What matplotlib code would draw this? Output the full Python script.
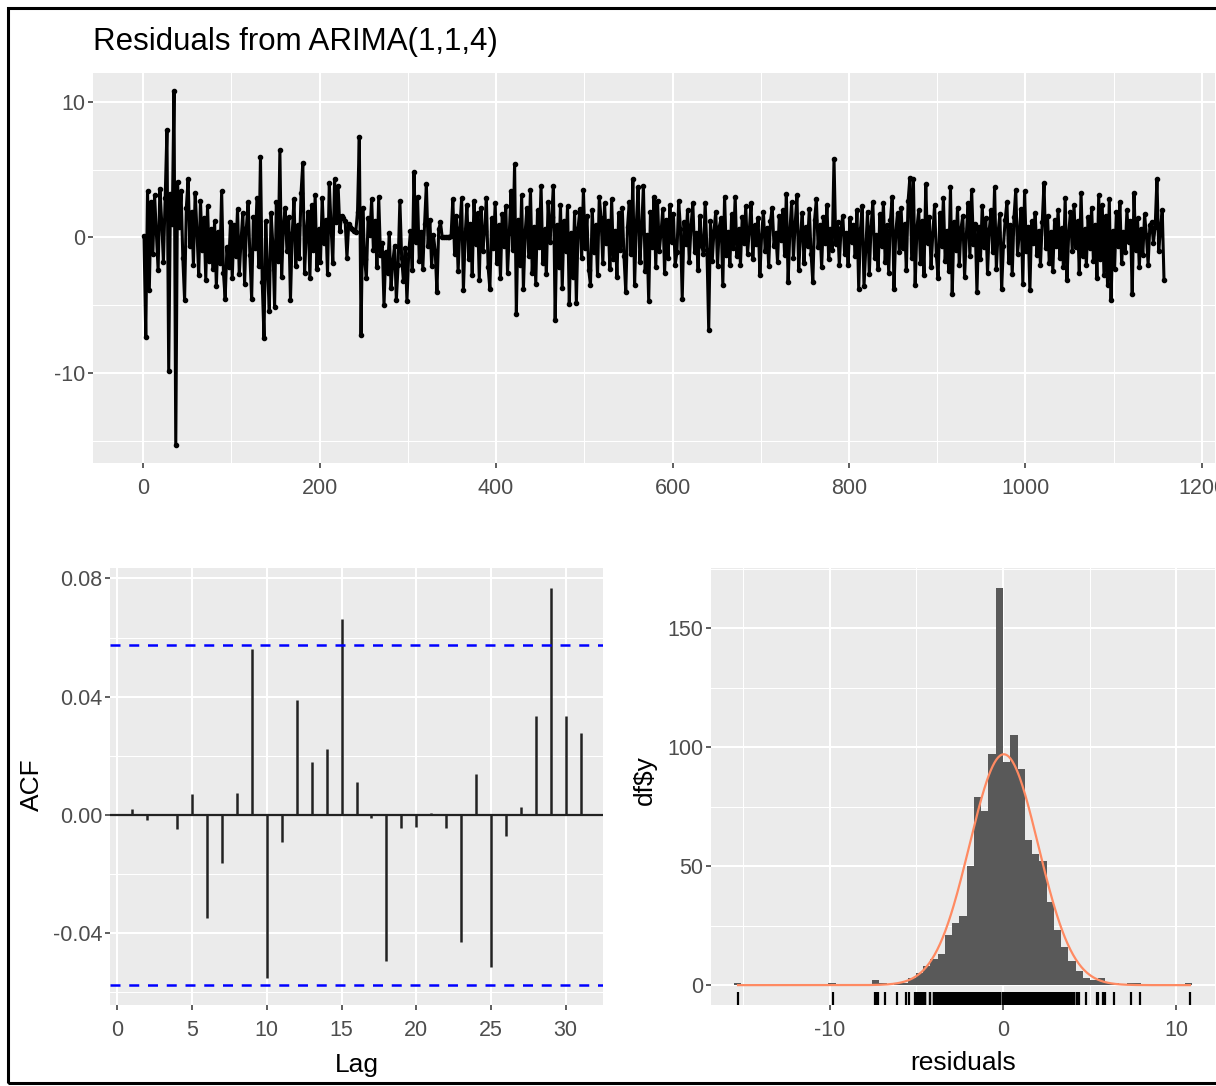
import numpy as np
import matplotlib
matplotlib.use("Agg")
import matplotlib.pyplot as plt
from matplotlib.patches import Rectangle

plt.rcParams['font.family'] = ['Liberation Sans', 'DejaVu Sans']
plt.rcParams['axes.unicode_minus'] = False

# residual series, every second observation (t = 1, 3, 5, ...)
resid = [
    0.1, -7.3, 3.4, -3.9, 2.6, -1.2, 3.1, 0.4, -2.4, 3.6, 1.2, -1.8, 2.9, 7.9, -9.8, 3.2, 1.0, 10.8, -15.3, 4.1,
    0.8, 3.4, -1.5, -4.6, 2.2, 4.3, -0.6, 1.9, -2.0, 3.3, 0.5, -2.8, 2.7, -0.9, 1.4, -3.1, 2.3, -1.7, 0.6, -2.3,
    1.2, -3.6, 0.4, -1.9, 3.4, -2.6, -4.5, -0.7, -2.2, 1.1, -3.0, 0.9, -1.4, 2.1, -2.7, -0.2, 1.8, -3.4, 0.7, 2.6,
    -1.3, -4.5, 1.5, -0.8, 2.9, -2.1, 5.9, -3.3, -7.4, 1.2, -2.4, -5.4, 1.8, -0.5, -5.1, 2.6, -1.7, 6.4, -2.9, 0.8,
    2.2, -1.0, 1.5, -4.6, 0.3, 2.8, -2.1, 0.9, -1.5, 3.3, 5.5, -2.6, 0.4, 1.9, -3.0, 2.4, -0.9, 3.1, -2.3, 0.6,
    -1.8, 2.9, -0.4, 1.3, -2.7, 4.0, 0.8, -1.9, 4.3, 1.1, 3.8, 0.5, 1.6, 1.4, 1.2, -1.5, 1.0, 0.8, 0.6, 0.5,
    0.4, 1.9, 7.4, -7.2, 2.2, -1.6, -3.0, 1.4, 0.2, 2.8, -0.9, 1.2, -2.2, 3.0, -1.3, -0.4, -5.0, -1.1, -2.6, 0.3,
    -3.7, -1.8, -0.6, -4.6, -2.0, 2.7, -1.5, -3.2, -0.8, -4.7, -1.2, 0.5, -2.4, 4.8, -0.3, 3.0, -1.7, 0.4, -2.3, 1.0,
    3.9, -0.6, 1.3, -2.1, 0.2, -1.0, -4.0, 0.6, 1.1, 0.0, 0.0, 0.0, 0.0, 0.0, 0.1, 2.8, -1.2, 1.6, -2.5, 0.7,
    2.9, -3.9, 0.2, 2.4, -1.6, 1.0, -2.8, 2.7, -0.5, 1.8, -3.1, 2.2, -1.0, 0.5, 2.9, -2.2, -3.8, 1.4, -0.8, 2.5,
    -1.9, 0.9, -3.0, 1.7, -0.6, 2.3, -2.6, 0.3, 3.4, -0.9, 5.4, -5.6, 1.3, -2.0, 3.1, -3.8, 0.4, 2.2, -1.4, 3.5,
    -2.6, 0.8, -3.4, 2.0, -0.7, 3.8, -1.9, 0.6, -2.7, 2.6, -0.3, 1.5, 3.8, -6.1, 0.9, -2.2, 2.4, -3.7, 1.2, -1.0,
    2.3, -4.9, 0.3, -2.9, 1.9, -4.8, 0.7, 2.1, -1.5, 3.5, -0.8, 1.6, -2.4, -3.5, 2.0, -1.1, 0.9, -2.8, 3.0, 1.4,
    -1.9, 2.5, -0.4, 1.2, -2.3, 2.8, -1.6, 0.5, -2.9, 1.8, -0.9, 2.2, -1.4, -4.0, 0.8, 2.6, -1.2, 4.3, -3.5, 1.0,
    3.7, -1.8, 0.6, 3.8, -2.5, 0.2, -4.7, 1.9, -0.7, 3.0, -2.2, 2.7, -1.0, 0.4, 2.1, -2.6, 1.3, -1.5, 2.4, -0.3,
    1.7, -2.0, -1.1, 2.7, 0.6, -4.5, 1.1, -0.5, 2.0, -1.8, 0.9, 2.5, -1.1, 0.3, -2.4, 1.6, -0.6, -1.2, 2.5, -0.9,
    -6.8, 1.2, -1.7, 0.5, 1.9, -2.1, 0.8, 1.4, -3.5, 3.0, -1.3, 0.4, -2.0, 1.7, -0.8, 3.0, -1.4, 0.6, -2.0, 1.5,
    -0.4, 2.3, -1.2, 0.5, 2.5, -1.6, 0.9, -0.5, 1.4, -2.8, 0.2, 1.9, -1.0, 0.7, -2.1, 1.2, 2.2, -0.6, 0.3, -1.8,
    1.6, -0.2, 2.0, -1.3, 3.2, -3.3, 0.5, 2.6, -1.5, 1.0, 3.1, -2.4, 0.1, 1.8, -1.9, 0.8, -0.6, 2.1, -1.2, -3.3,
    1.3, 2.8, -0.7, 0.9, -2.2, 1.5, -0.4, 2.4, -1.6, 0.6, -0.9, 5.8, -0.5, 1.1, -2.0, 0.7, 1.6, -1.2, 0.3, -2.0,
    1.4, -0.3, 0.9, -1.4, 2.0, -3.8, 0.6, 2.3, -3.6, -0.9, 1.9, -2.7, 0.8, 2.6, -1.5, 0.2, -2.3, 1.7, -0.6, 2.5,
    -1.8, 0.9, -2.6, 1.3, 3.0, -3.8, 0.4, 1.8, -1.1, 2.2, -0.8, 1.0, -2.4, 2.7, 4.4, -1.5, 4.3, -3.5, 0.7, 2.0,
    -1.9, 1.2, -2.8, 3.9, -0.4, 1.5, -2.2, 0.3, 2.4, -1.3, -3.0, 1.8, -0.6, 2.9, -1.7, 0.5, -2.5, 3.7, -4.2, 1.1,
    -0.9, 2.2, -2.0, 0.7, 1.6, -2.9, 0.2, 2.5, -1.4, 3.5, -0.5, 1.0, -4.0, 0.8, -1.6, 2.3, -0.7, 1.4, -2.6, 0.6,
    2.0, -1.1, 3.7, -2.3, 0.4, 1.7, -3.8, -0.6, 1.3, 2.6, -1.8, 0.9, -2.7, 1.5, 3.5, -1.2, 0.3, 2.1, -3.4, 3.4,
    -1.0, 0.8, -3.9, 1.2, -0.4, 1.8, -1.3, 0.5, -2.0, 1.1, 4.0, -0.8, 1.6, -1.9, 0.4, -2.5, 1.3, -0.6, 2.0, -1.5,
    0.7, -2.2, 2.9, -3.1, 0.3, 1.9, -1.0, 2.4, -0.7, 1.2, -2.6, 3.3, -1.4, 0.6, -2.0, 1.5, -0.8, 2.2, -1.7, 0.9,
    -3.0, 3.1, -1.6, 2.4, -2.8, 1.6, -3.5, 2.8, -4.6, 0.5, -2.3, 1.9, -0.6, 2.6, -1.9, 0.4, -1.1, 2.0, -0.3, 1.2,
    -4.2, 3.3, -0.9, 1.4, -2.2, 0.6, -1.3, 1.7, 0.2, -2.0, 0.9, 1.1, -0.4, 0.8, 4.3, -1.0, 0.6, 2.0, -3.1,
]
time_idx = 1 + 2 * np.arange(len(resid))
n_obs = 1157

# ACF of residuals, lags 1..31
lags = np.arange(1, 32)
acf = [0.002, -0.0017, 0.0003, -0.0049, 0.0072, -0.035, -0.0162, 0.0075, 0.0562, -0.0551,
       -0.0093, 0.0388, 0.018, 0.0223, 0.0664, 0.0112, -0.001, -0.0493, -0.0044, -0.004,
       0.0005, -0.0044, -0.0429, 0.0137, -0.0514, -0.0072, 0.0026, 0.0336, 0.0768, 0.0334, 0.0276]

# histogram of residuals
binwidth = 0.42
bin_k = np.arange(-37, 26)
counts = [1] + [0] * 12 + [1] + [0] * 5 + [2, 1, 0, 1, 1, 3, 5, 8, 11, 13, 21, 26, 29, 50, 79, 73, 97, 167,
          94, 105, 91, 61, 55, 52, 35, 23, 16, 10, 6, 3, 2, 3, 1, 1, 0, 1, 1] + [0] * 6 + [1]

W, H = 1216, 1086
fig = plt.figure(figsize=(W / 100, H / 100), dpi=100)


def px_axes(l, t, r, b):
    return fig.add_axes([l / W, 1 - b / H, (r - l) / W, (b - t) / H])


def gg(ax):
    ax.set_facecolor('#EBEBEB')
    for s in ax.spines.values():
        s.set_visible(False)
    ax.grid(which='major', color='white', lw=1.5)
    ax.grid(which='minor', color='white', lw=0.75)
    ax.set_axisbelow(True)
    ax.tick_params(which='major', length=3.5, width=1.1, color='#333333',
                   labelcolor='#4D4D4D', labelsize=15.5)
    ax.tick_params(axis='x', pad=7)
    ax.tick_params(axis='y', pad=2.2)
    ax.tick_params(which='minor', length=0)


def expand(lo, hi, f=0.05):
    d = (hi - lo) * f
    return lo - d, hi + d


# --- top: residual series
ax1 = px_axes(93, 73, 1215, 463)
gg(ax1)
ax1.plot(time_idx, resid, color='black', lw=2.2, marker='o', ms=3, zorder=3)
ax1.set_xlim(*expand(time_idx.min(), time_idx.max()))
ax1.set_ylim(*expand(min(resid), max(resid)))
ax1.set_xticks(np.arange(0, 1201, 200))
ax1.set_xticks(np.arange(100, 1201, 200), minor=True)
ax1.set_yticks([-10, 0, 10])
ax1.set_yticks([-15, -5, 5], minor=True)
fig.text(93 / W, 1 - 42 / H, "Residuals from ARIMA(1,1,4)", fontsize=22.5, ha='left', va='center')

# --- bottom left: ACF
ci = 1.96 / np.sqrt(n_obs)
ax2 = px_axes(110, 568, 603, 1005)
gg(ax2)
ax2.vlines(lags, 0, acf, color='#222222', lw=1.8, zorder=3)
ax2.axhline(0, color='#222222', lw=1.6, zorder=3)
ax2.axhline(ci, color='#0000FF', lw=1.8, ls=(0, (4, 3.5)), zorder=3)
ax2.axhline(-ci, color='#0000FF', lw=1.8, ls=(0, (4, 3.5)), zorder=3)
ax2.set_xlim(*expand(lags.min(), lags.max()))
ax2.set_ylim(*expand(min(min(acf), -ci), max(max(acf), ci)))
ax2.set_xticks(np.arange(0, 31, 5))
ax2.set_yticks([-0.04, 0.0, 0.04, 0.08])
ax2.set_yticklabels(['-0.04', '0.00', '0.04', '0.08'])
ax2.set_yticks([-0.06, -0.02, 0.02, 0.06], minor=True)
fig.text(357 / W, 1 - 1065 / H, "Lag", fontsize=19, ha='center', va='center')
fig.text(32 / W, 1 - 785 / H, "ACF", fontsize=19, ha='center', va='center', rotation=90)

# --- bottom right: histogram
counts = np.array(counts)
centers = (bin_k + 0.5) * binwidth
ntot = counts.sum()
mu = (counts * centers).sum() / ntot
sd = np.sqrt((counts * (centers - mu) ** 2).sum() / ntot)
ax3 = px_axes(711, 568, 1215, 1005)
gg(ax3)
ax3.bar(centers, counts, width=binwidth, color='#595959', zorder=2)
xs = np.linspace(min(resid), max(resid), 500)
dens = ntot * binwidth * np.exp(-0.5 * ((xs - mu) / sd) ** 2) / (sd * np.sqrt(2 * np.pi))
ax3.plot(xs, dens, color='#FF8A62', lw=1.6, zorder=4)
ax3.set_xlim(*expand(bin_k.min() * binwidth, (bin_k.max() + 1) * binwidth))
ylo, yhi = expand(0, counts.max())
ax3.set_ylim(ylo, yhi)
rug_len = 0.03 * (yhi - ylo)
ax3.vlines(resid, ylo, ylo + rug_len, color='black', lw=1.6, zorder=3)
ax3.set_xticks([-10, 0, 10])
ax3.set_xticks([-15, -5, 5], minor=True)
ax3.set_yticks([0, 50, 100, 150])
ax3.set_yticks([25, 75, 125, 175], minor=True)
fig.text(963 / W, 1 - 1063 / H, "residuals", fontsize=19, ha='center', va='center')
fig.text(645 / W, 1 - 780 / H, r"df\$y", fontsize=19, ha='center', va='center', rotation=90)

# outer frame
fig.add_artist(Rectangle((8 / W, 1 - 1083 / H), 1.2, (1083 - 8) / H, transform=fig.transFigure,
                         fill=False, edgecolor='black', lw=2.2, clip_on=False))

fig.savefig("out.png", dpi=100)
